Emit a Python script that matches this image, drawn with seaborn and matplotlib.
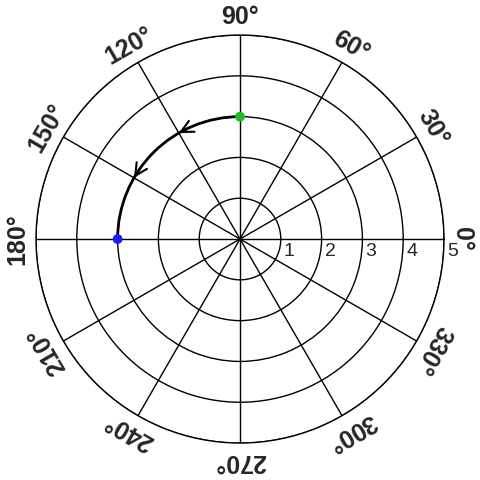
import numpy as np
import pandas as pd
import matplotlib
matplotlib.use("Agg")
import matplotlib.pyplot as plt
import matplotlib.transforms as mtransforms
from matplotlib import font_manager
import seaborn as sns

# chart data
arc_theta_deg = [90, 180]
arc_r = [3, 3]
arrow_theta_deg = [120, 150]
start_point = (90, 3)   # green
end_point = (180, 3)    # blue
angle_ticks = [0, 30, 60, 90, 120, 150, 180, 210, 240, 270, 300, 330]
angle_labels = [f"{a}\u00b0" for a in angle_ticks]
r_ticks = [1, 2, 3, 4, 5]
r_max = 5

sns.set_style("white")
plt.rcParams["font.family"] = ["Liberation Sans", "DejaVu Sans"]

# narrow bold face for the angle labels, if installed
names = {f.name for f in font_manager.fontManager.ttflist}
label_family = "Liberation Sans Narrow" if "Liberation Sans Narrow" in names else "Liberation Sans"
label_size = 21 if label_family == "Liberation Sans Narrow" else 18

fig = plt.figure(figsize=(4.8, 4.8), dpi=100)
ax = fig.add_axes([0.075, 0.077, 0.85, 0.85], projection="polar")

# grid
ax.set_ylim(0, r_max)
ax.set_thetagrids(angle_ticks, labels=[""] * len(angle_ticks))
ax.set_rgrids(r_ticks, labels=[""] * len(r_ticks))
ax.grid(True, color="black", linewidth=1.0, linestyle="-")
ax.spines["polar"].set_color("black")
ax.spines["polar"].set_linewidth(1.0)
ax.tick_params(length=0)

# arc (polar path interpolation makes the constant-r segment a true arc)
arc_df = pd.DataFrame({"theta": np.deg2rad(arc_theta_deg), "r": arc_r})
sns.lineplot(data=arc_df, x="theta", y="r", ax=ax, color="black",
             linewidth=2.0, sort=False, estimator=None)
for ln in ax.lines:
    ln.get_path()._interpolation_steps = 180

# direction arrows along the arc
for a in arrow_theta_deg:
    ax.annotate("", xy=(np.deg2rad(a), 3), xytext=(np.deg2rad(a - 5), 3),
                arrowprops=dict(arrowstyle="->", color="black", lw=1.5,
                                mutation_scale=22, shrinkA=0, shrinkB=0))

# start / end points
pts = pd.DataFrame({"theta": np.deg2rad([start_point[0], end_point[0]]),
                    "r": [start_point[1], end_point[1]],
                    "kind": ["start", "end"]})
sns.scatterplot(data=pts, x="theta", y="r", hue="kind", ax=ax,
                palette={"start": "#22b822", "end": "#1a1aff"},
                s=50, edgecolor="none", legend=False, zorder=5)

ax.set_xlabel("")
ax.set_ylabel("")

# angle labels, rotated tangentially
for a, lab in zip(angle_ticks, angle_labels):
    ax.text(np.deg2rad(a), r_max * 1.09, lab, rotation=a - 90,
            rotation_mode="anchor", ha="center", va="center",
            fontsize=label_size, fontweight="bold", family=label_family,
            clip_on=False)

# radial labels
off = mtransforms.offset_copy(ax.transData, fig=fig, x=3, y=-4, units="dots")
for r in r_ticks:
    ax.text(0, r, str(r), transform=off, ha="left", va="top", fontsize=14)

fig.savefig("out.png", dpi=100)
